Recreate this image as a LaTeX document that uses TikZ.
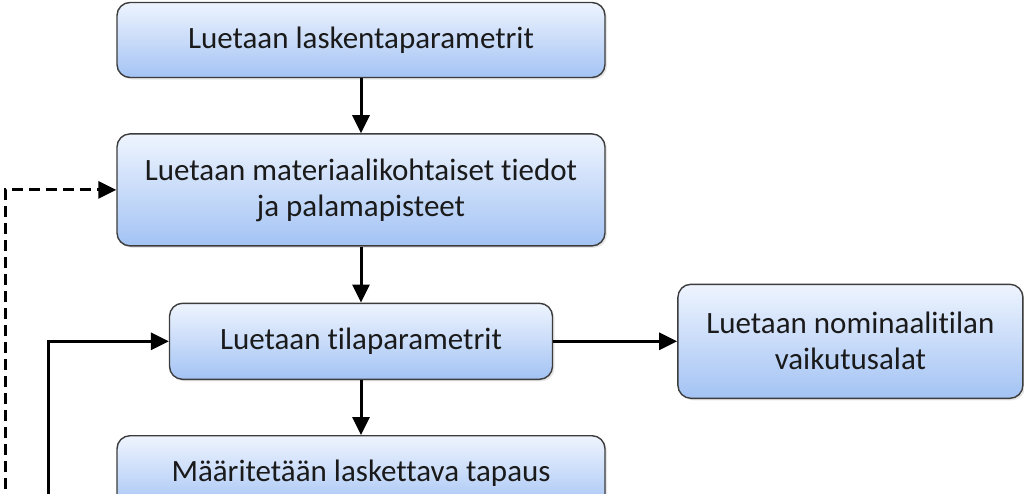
\documentclass[tikz,border=0pt]{standalone}
\usepackage{fontspec}
\setmainfont{Carlito}[Ligatures=NoCommon]
\usepackage{tikz}
\usetikzlibrary{arrows.meta, positioning, shadows}
\definecolor{BoxTop}{HTML}{EEF4FE}
\definecolor{BoxBottom}{HTML}{A3C3F4}
\definecolor{BoxLine}{HTML}{3C3C3C}
\definecolor{BoxText}{HTML}{1A1A1A}

\begin{document}
\begin{tikzpicture}[
    x=1pt, y=-1pt,
    procbox/.style={
        rectangle, rounded corners=13pt, draw=BoxLine, line width=1.4pt,
        top color=BoxTop, bottom color=BoxBottom,
        drop shadow={opacity=0.2, shadow xshift=2pt, shadow yshift=-2pt},
        minimum width=488pt, minimum height=75pt, inner sep=0pt,
        align=center, text=BoxText, font=\fontsize{31}{36}\selectfont
    },
    arr/.style={-{Triangle[length=18pt, width=17pt]}, line width=3pt, black},
    backarr/.style={arr, dash pattern=on 11pt off 6pt},
    node distance=55pt
]

% frame of the picture
\path[clip] (0,0) rectangle (1024,493);
\useasboundingbox (0,0) rectangle (1024,493);

% ===================================================================
% main column
% ===================================================================
\node[procbox] (params) at (361,40) {Luetaan laskentaparametrit};

\node[procbox, minimum height=112pt, below=of params] (material)
    {Luetaan materiaalikohtaiset tiedot\\ja palamapisteet};

\node[procbox, minimum width=383pt, minimum height=76pt,
      below=56pt of material] (state) {Luetaan tilaparametrit};

\node[procbox, below=of state] (case) {Määritetään laskettava tapaus};

% side box
\node[procbox, minimum width=345pt, minimum height=114pt,
      right=124pt of state] (nominal)
    {Luetaan nominaalitilan\\vaikutusalat};

% ===================================================================
% connectors
% ===================================================================
\draw[arr] (params) -- (material);
\draw[arr] (material) -- (state);
\draw[arr] (state) -- (case);
\draw[arr] (state) -- (nominal);

% loops coming back from below
\coordinate (dashfoot) at (5,540);
\coordinate (loopfoot) at (48,540);
\draw[backarr] (dashfoot) |- (material.west);
\draw[arr] (loopfoot) |- (state.west);

\end{tikzpicture}
\end{document}
